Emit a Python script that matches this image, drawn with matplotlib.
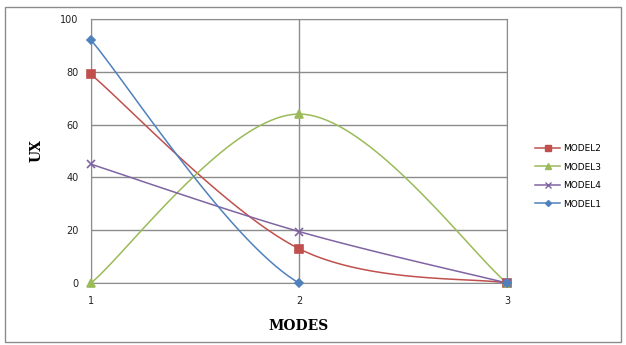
import numpy as np
import matplotlib.pyplot as plt
from matplotlib.patches import Rectangle

modes = [1, 2, 3]
model1 = [92, 0, 0]
model2 = [79, 13, 0]
model3 = [0, 64, 0]
model4 = [45, 19.5, 0]


def smooth(x, y, n=40):
    # Excel-like smoothed line (Bezier through points)
    x = np.asarray(x, float)
    y = np.asarray(y, float)
    px = np.concatenate([[x[0]], x, [x[-1]]])
    py = np.concatenate([[y[0]], y, [y[-1]]])
    xs, ys = [], []
    t = np.linspace(0, 1, n)
    for i in range(len(x) - 1):
        p0 = np.array([px[i + 1], py[i + 1]])
        p3 = np.array([px[i + 2], py[i + 2]])
        c1 = p0 + (np.array([px[i + 2], py[i + 2]]) - np.array([px[i], py[i]])) / 6
        c2 = p3 - (np.array([px[i + 3], py[i + 3]]) - np.array([px[i + 1], py[i + 1]])) / 6
        b = ((1 - t) ** 3)[:, None] * p0 + (3 * (1 - t) ** 2 * t)[:, None] * c1 \
            + (3 * (1 - t) * t ** 2)[:, None] * c2 + (t ** 3)[:, None] * p3
        xs.extend(b[:, 0])
        ys.extend(b[:, 1])
    return xs, ys


fig = plt.figure(figsize=(6.26, 3.45), dpi=100)
ax = fig.add_axes([91 / 626, 1 - 283 / 345, 416 / 626, 264 / 345])

series = [
    ("MODEL2", model2, "#C0504D", "s", 6),
    ("MODEL3", model3, "#9BBB59", "^", 6),
    ("MODEL4", model4, "#8064A2", "x", 6),
    ("MODEL1", model1, "#4F81BD", "D", 4),
]

handles = []
for name, vals, col, mk, ms in series:
    xs, ys = smooth(modes, vals)
    ax.plot(xs, ys, color=col, lw=1.1, zorder=3)
    ax.plot(modes, vals, ls="none", marker=mk, color=col, ms=ms, mew=1.2, zorder=4, clip_on=False)
    h, = ax.plot([], [], color=col, lw=1.1, marker=mk, ms=ms - 1, mew=1.0, label=name)
    handles.append(h)

ax.set_xlim(1, 3)
ax.set_ylim(0, 100)
ax.set_xticks(modes)
ax.set_yticks([0, 20, 40, 60, 80, 100])
ax.grid(True, color="#8c8c8c", lw=1)
ax.set_axisbelow(True)
for s in ax.spines.values():
    s.set_color("#8c8c8c")
ax.tick_params(length=0, labelsize=7, colors="#222222", pad=9)
ax.set_xlabel("MODES", family="DejaVu Serif", weight="bold", fontsize=10, labelpad=10)
ax.set_ylabel("UX", family="DejaVu Serif", weight="bold", fontsize=10, labelpad=12)

fig.legend(handles=handles, loc="upper left", bbox_to_anchor=(527 / 626, 1 - 136 / 345),
           frameon=False, fontsize=6.5, handlelength=2.8, labelspacing=1.05, handletextpad=0.3)

fig.patches.append(Rectangle((5 / 626, 1 - 342 / 345), 616 / 626, 335 / 345,
                             transform=fig.transFigure, fill=False, ec="#8c8c8c", lw=1))

fig.savefig("out.png", dpi=100)
